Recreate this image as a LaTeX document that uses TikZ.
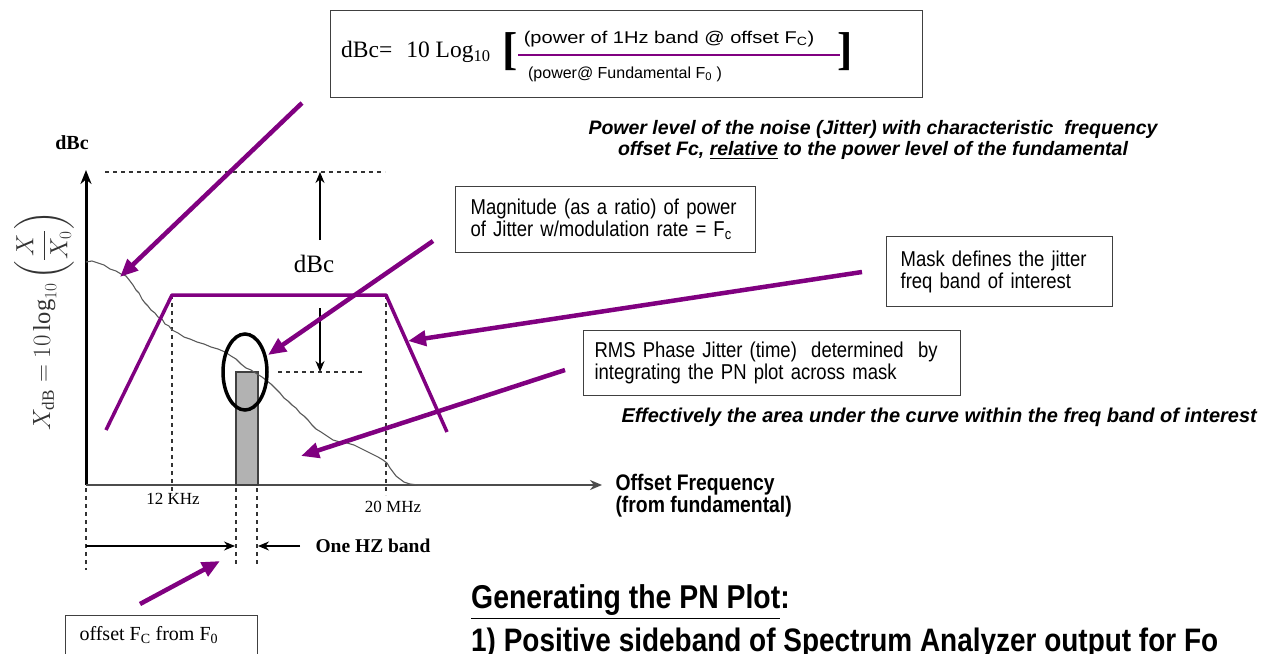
\documentclass[tikz,border=0pt]{standalone}
\usepackage{fontspec}
\usepackage{amsmath}
\setmainfont{Liberation Serif}
\newfontfamily\arial{Liberation Sans}
\newfontfamily\arialwide[FakeStretch=1.18]{Liberation Sans}
\newfontfamily\narrow[FakeStretch=0.86]{Liberation Sans}
\usetikzlibrary{arrows.meta,shapes.geometric}
\definecolor{mauve}{RGB}{128,0,128}
\tikzset{
  pointer/.style={draw=mauve,line width=4.5pt,-{Triangle[length=18pt,width=15pt]}},
  maskline/.style={draw=mauve,line width=3.5pt},
  guide/.style={draw=black!80,line width=1.2pt,dash pattern=on 4pt off 4pt},
  textbox/.style={draw=black!75,line width=1.2pt,anchor=north west,align=left,inner ysep=0pt},
  boxfont/.style={font=\narrow\fontsize{21.5}{22}\selectfont},
  dim/.style={draw=black,line width=1.2pt,-{Stealth[length=11pt,width=9pt]}},
  bigital/.style={font=\arial\bfseries\itshape\fontsize{19.5}{21}\selectfont},
}
\begin{document}
\begin{tikzpicture}[x=1pt,y=-1pt]
\useasboundingbox (0,0) rectangle (1268,653);
\clip (0,0) rectangle (1268,653);
\fill[white] (0,0) rectangle (1268,653);

% formula box
\node[textbox,minimum width=592pt,minimum height=87pt,inner xsep=0pt] (fbox) at (330,10) {};
\node[anchor=west,font=\fontsize{23.5}{26}\selectfont,inner sep=0pt] (flhs) at (341,52) {dBc=\hspace{14pt}10 Log$_{\text{10}}$};
\node[anchor=west,font=\fontsize{46}{46}\selectfont\bfseries,inner sep=0pt] (lbr) at (502,52) {[};
\node[anchor=east,font=\fontsize{46}{46}\selectfont\bfseries,inner sep=0pt] (rbr) at (853,52) {]};
\node[font=\arialwide\fontsize{17}{18}\selectfont] (num) at (669,39) {(power of 1Hz band @ offset F$_{\text{C}}$)};
\node[font=\arial\fontsize{16}{18}\selectfont] (den) at (625,74) {(power@ Fundamental F$_{\text{0}}$ )};
\draw[draw=mauve,line width=2pt] (518,55) -- (840,55);

% italic explanation
\node[align=center,bigital] (expl) at (873,140)
 {Power level of the noise (Jitter) with characteristic \ frequency\\ offset Fc, \underline{relative} to the power level of the fundamental};

% axes
\coordinate (O) at (86,485);
\coordinate (Ytop) at (86,170);
\coordinate (Xend) at (602,485);
\draw[line width=3pt,-{Stealth[length=14pt,width=11pt]}] (O) -- (Ytop);
\draw[draw=black!70,line width=2.5pt,-{Stealth[length=12pt,width=10pt]}] (O) -- (Xend);
\node[font=\bfseries\fontsize{20}{22}\selectfont] (ylab) at (72,143) {dBc};
\node[rotate=90,font=\fontsize{24.5}{28}\selectfont,text=black!80,inner sep=0pt] (ymath) at (44,321)
 {$X_{\mathrm{dB}} = 10\log_{10}\left(\dfrac{X}{X_0}\right)$};
\node[anchor=west,align=left,font=\narrow\bfseries\fontsize{22.5}{22}\selectfont] (xlab) at (612,496)
 {Offset Frequency\\(from fundamental)};

% guides
\draw[guide] (105,172) -- (385,172);
\draw[guide] (278,372) -- (365,372);
\draw[guide] (172,295) -- (172,495);
\draw[guide] (386,295) -- (386,495);
\draw[guide] (86,488) -- (86,570);
\draw[guide] (236,488) -- (236,565);
\draw[guide] (257,488) -- (257,565);

% dBc dimension
\coordinate (d1) at (320,240);
\coordinate (d2) at (320,172);
\coordinate (d3) at (320,308);
\coordinate (d4) at (320,372);
\draw[dim] (d1) -- (d2);
\draw[dim] (d3) -- (d4);
\node[font=\fontsize{25}{26}\selectfont] (dbclab) at (314,264) {dBc};

% bar
\draw[fill=black!30,draw=black!75,line width=1.2pt] (236,372) rectangle (258,485);

% noise curve
\draw[draw=black!65,line width=1.1pt] plot coordinates {
(86,262) (92,261) (98,263) (104,265) (110,269) (116,271) (121,274) (126,276) (130,281) (133,285) (136,290) (139,293) (142,299) (145,303) (148,306) (151,310) (155,313) (158,317) (162,319) (165,324) (169,326) (172,330)
(178,333) (184,337) (190,339) (197,342) (204,344) (211,347) (218,349) (225,352) (231,356) (236,359) (241,364) (246,368) (251,370) (257,374) (262,377) (267,381) (271,384) (276,389) (280,393) (284,398) (288,401) (292,405) (296,408) (300,413) (304,416) (308,420) (312,425) (316,429) (321,432) (327,436) (333,440) (340,442) (347,443) (354,445) (360,448) (366,451) (372,454) (378,457) (383,460) (387,463) (390,468) (393,472) (396,476) (400,479) (404,482) (410,484) (418,485) (430,485)};

% ellipse
\node[draw,ellipse,line width=3.5pt,minimum width=44pt,minimum height=76pt,inner sep=0pt] (ell) at (245,372) {};

% mask
\draw[maskline,line join=round] (106,430) -- (172,295) -- (386,295) -- (447,432);

% horizontal dims
\coordinate (h1) at (86,546);
\coordinate (h2) at (235,546);
\coordinate (h3) at (300,546);
\coordinate (h4) at (258,546);
\draw[dim] (h1) -- (h2);
\draw[dim] (h3) -- (h4);
\node[anchor=west,font=\bfseries\fontsize{19.5}{22}\selectfont] (onehz) at (312,546) {One HZ band};
\node[font=\fontsize{17}{18}\selectfont] (k12) at (173,499) {12 KHz};
\node[font=\fontsize{17}{18}\selectfont] (m20) at (393,507) {20 MHz};

% boxes
\node[textbox,boxfont,minimum width=300pt,minimum height=66pt,inner xsep=15pt,text width=270pt] (mag) at (455,186)
 {Magnitude (as a ratio) of power\\of Jitter w/modulation rate = F$_{\text{c}}$};
\node[textbox,boxfont,minimum width=226pt,minimum height=70pt,inner xsep=14pt,text width=198pt] (mask) at (886,236)
 {Mask defines the jitter\\freq band of interest\\[4pt]};
\node[textbox,boxfont,minimum width=377pt,minimum height=65pt,inner xsep=11pt,text width=355pt] (rms) at (583,330)
 {RMS Phase Jitter (time) \ determined \ by\\integrating the PN plot across mask};
\node[anchor=west,font=\arial\bfseries\itshape\fontsize{20}{21}\selectfont] (eff) at (618,417)
 {Effectively the area under the curve within the freq band of interest};
\node[textbox,minimum width=192pt,minimum height=60pt,inner xsep=0pt] (off) at (65,615) {};
\node[anchor=west,font=\fontsize{20}{22}\selectfont] (offtxt) at (76,635) {offset F$_{\text{C}}$ from F$_{\text{0}}$};

% generating
\node[anchor=base west,font=\narrow\bfseries\fontsize{33}{36}\selectfont,inner sep=0pt] (gen) at (471,608) {\underline{Generating the PN Plot}:};
\node[anchor=base west,font=\narrow\bfseries\fontsize{32.5}{36}\selectfont,inner sep=0pt] (step1) at (471,651) {1) Positive sideband of Spectrum Analyzer output for Fo};

% purple pointers
\coordinate (p1s) at (302,103); \coordinate (p1e) at (120,277);
\coordinate (p2s) at (433,241); \coordinate (p2e) at (268,355);
\coordinate (p3s) at (862,272); \coordinate (p3e) at (408,341);
\coordinate (p4s) at (565,370); \coordinate (p4e) at (301,456);
\coordinate (p5s) at (140,604); \coordinate (p5e) at (220,561);
\draw[pointer] (p1s) -- (p1e);
\draw[pointer] (p2s) -- (p2e);
\draw[pointer] (p3s) -- (p3e);
\draw[pointer] (p4s) -- (p4e);
\draw[pointer] (p5s) -- (p5e);
\end{tikzpicture}
\end{document}
